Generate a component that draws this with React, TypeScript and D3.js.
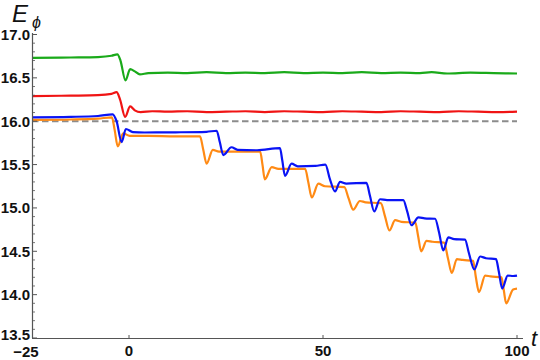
import React from "react";
import * as d3 from "d3";

// [t, E] samples
const greenSeries: [number, number][] = [
  [-25, 16.73], [-15, 16.735], [-8, 16.74], [-4.5, 16.755], [-3.0, 16.77], [-2.2, 16.7],
  [-0.9, 16.47], [0.3, 16.6], [1.5, 16.575], [2.8, 16.54], [5, 16.555], [10, 16.56],
  [15, 16.555], [20, 16.565], [25, 16.555], [30, 16.56], [35, 16.555], [40, 16.565],
  [45, 16.555], [50, 16.56], [55, 16.555], [60, 16.565], [65, 16.555], [70, 16.56],
  [75, 16.555], [78, 16.565], [82, 16.55], [88, 16.56], [94, 16.555], [100, 16.55],
];

const redSeries: [number, number][] = [
  [-25, 16.29], [-15, 16.295], [-8, 16.3], [-4.5, 16.315], [-3.2, 16.335], [-2.3, 16.25],
  [-1.0, 16.05], [0.3, 16.17], [1.5, 16.125], [3, 16.105], [6, 16.115], [10, 16.11],
  [15, 16.115], [20, 16.105], [25, 16.11], [30, 16.115], [35, 16.105], [40, 16.115],
  [45, 16.11], [50, 16.105], [55, 16.115], [60, 16.11], [65, 16.105], [70, 16.115],
  [75, 16.11], [80, 16.105], [85, 16.115], [90, 16.11], [95, 16.105], [100, 16.11],
];

const blueSeries: [number, number][] = [
  [-25, 16.045], [-15, 16.05], [-8, 16.06], [-4.2, 16.08], [-3.2, 16.0], [-1.9, 15.76],
  [-0.8, 15.91], [1, 15.875], [4, 15.87], [12, 15.872], [20, 15.878], [22.6, 15.89],
  [23.4, 15.76], [24.3, 15.61], [26.4, 15.7], [28, 15.67], [33, 15.665], [38.9, 15.69],
  [39.5, 15.55], [40.2, 15.37], [41.9, 15.51], [43.5, 15.48], [48, 15.485], [50.6, 15.5],
  [51.8, 15.33], [53.1, 15.19], [54.4, 15.3], [56, 15.28], [61.2, 15.29], [62.1, 15.14],
  [63.2, 14.96], [64.7, 15.1], [66.5, 15.09], [70.7, 15.09], [71.7, 14.96], [72.8, 14.8],
  [74.6, 14.89], [76.2, 14.88], [78.9, 14.875], [79.9, 14.72], [81, 14.51], [82.3, 14.66],
  [83.8, 14.64], [86.6, 14.635], [87.6, 14.48], [89, 14.29], [90.5, 14.44], [92, 14.42],
  [94.6, 14.41], [95.3, 14.27], [96.2, 14.07], [97.6, 14.22], [99, 14.215], [100, 14.22],
];

const orangeSeries: [number, number][] = [
  [-25, 16.015], [-15, 16.02], [-8, 16.03], [-4.4, 16.045], [-3.7, 15.9], [-2.9, 15.71],
  [-1.5, 15.86], [0.2, 15.83], [5, 15.83], [12, 15.825], [18.3, 15.825], [19.1, 15.68],
  [20, 15.51], [21.6, 15.67], [23.2, 15.65], [30, 15.65], [33.8, 15.65], [34.4, 15.5],
  [35, 15.33], [36.8, 15.47], [38.5, 15.45], [45.4, 15.45], [46.2, 15.3], [47.1, 15.12],
  [48.8, 15.28], [50.5, 15.25], [55.5, 15.24], [56.6, 15.11], [57.8, 14.98], [59.5, 15.08],
  [61, 15.065], [64.9, 15.055], [66, 14.9], [67.1, 14.74], [68.6, 14.86], [70.2, 14.84],
  [73.8, 14.83], [74.5, 14.68], [75.3, 14.5], [76.7, 14.62], [78.2, 14.61], [81.2, 14.6],
  [82.2, 14.42], [83.2, 14.25], [84.5, 14.41], [86, 14.4], [88.7, 14.39], [89.4, 14.2],
  [90.2, 14.03], [91.8, 14.22], [93.2, 14.21], [96, 14.2], [96.6, 14.05], [97.2, 13.9],
  [99, 14.06], [100, 14.07],
];

const xTicks = [0, 50, 100];
const yTicks = [13.5, 14.0, 14.5, 15.0, 15.5, 16.0, 16.5, 17.0];
const referenceLevel = 16.0;

export default function App() {
  const x = d3.scaleLinear().domain([-25, 100]).range([32, 517]);
  const y = d3.scaleLinear().domain([13.5, 17]).range([338, 34.5]);
  const line = d3
    .line<[number, number]>()
    .x((d) => x(d[0]))
    .y((d) => y(d[1]))
    .curve(d3.curveMonotoneX);

  const minorY = d3.range(135, 171).map((v) => v / 10).filter((v) => Math.abs(v * 2 - Math.round(v * 2)) > 1e-6);

  const series = [
    { data: greenSeries, color: "#1aaa1a" },
    { data: redSeries, color: "#f01414" },
    { data: orangeSeries, color: "#ff8a14" },
    { data: blueSeries, color: "#0a14f5" },
  ];

  const axisColor = "#555";
  const tickFont = "'Liberation Sans', Arial, sans-serif";

  return (
    <svg
      width={540}
      height={360}
      style={{ position: "absolute", left: 0, top: 0, background: "#fff" }}
    >
      {/* reference dashed line */}
      <line
        x1={x(-25)}
        x2={x(100)}
        y1={y(referenceLevel)}
        y2={y(referenceLevel)}
        stroke="#8c8c8c"
        strokeWidth={2}
        strokeDasharray="6.5,3.5"
      />
      {series.map((s, i) => (
        <path key={i} d={line(s.data) || ""} fill="none" stroke={s.color} strokeWidth={2.2} strokeLinejoin="round" />
      ))}
      {/* axes */}
      <line x1={32} x2={523} y1={338.5} y2={338.5} stroke={axisColor} strokeWidth={1.2} />
      <line x1={32.5} x2={32.5} y1={33} y2={338} stroke={axisColor} strokeWidth={1.2} />
      {yTicks.map((v) => (
        <g key={v}>
          <line x1={32} x2={37} y1={y(v)} y2={y(v)} stroke={axisColor} strokeWidth={1} />
          <text
            x={30}
            y={v === 13.5 ? y(v) - 4 : y(v)}
            textAnchor="end"
            dominantBaseline="central"
            fontFamily={tickFont}
            fontWeight="bold"
            fontSize={15}
            fill="#111"
          >
            {v.toFixed(1)}
          </text>
        </g>
      ))}
      {minorY.map((v) => (
        <line key={v} x1={32} x2={35} y1={y(v)} y2={y(v)} stroke={axisColor} strokeWidth={0.8} />
      ))}
      {xTicks.map((t) => (
        <g key={t}>
          <line x1={x(t)} x2={x(t)} y1={338} y2={335} stroke={axisColor} strokeWidth={1} />
          <text
            x={x(t)}
            y={356}
            textAnchor="middle"
            fontFamily={tickFont}
            fontWeight="bold"
            fontSize={15}
            fill="#111"
          >
            {t}
          </text>
        </g>
      ))}
      <text x={26} y={357} textAnchor="middle" fontFamily={tickFont} fontWeight="bold" fontSize={15} fill="#111">
        −25
      </text>
      {/* axis labels */}
      <text x={12} y={22} fontFamily={tickFont} fontStyle="italic" fontSize={24} fill="#111">
        E
      </text>
      <text x={32} y={28} fontFamily={tickFont} fontStyle="italic" fontSize={16} fill="#111">
        ϕ
      </text>
      <text x={531} y={346} fontFamily={tickFont} fontStyle="italic" fontSize={22} fill="#111">
        t
      </text>
    </svg>
  );
}
